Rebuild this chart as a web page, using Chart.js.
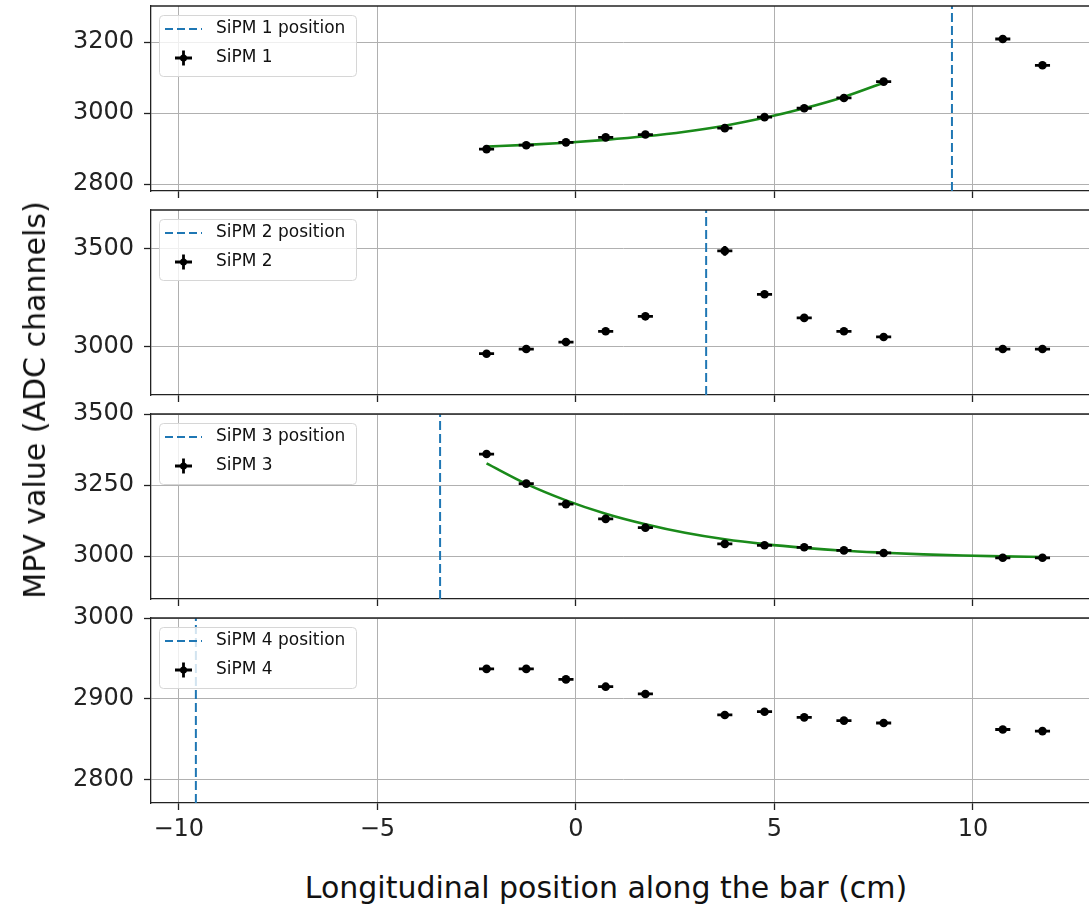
<!DOCTYPE html>
<html>
<head>
<meta charset="utf-8">
<script src="https://cdn.jsdelivr.net/npm/chart.js@4.4.0/dist/chart.umd.min.js"></script>
<style>
  body { margin: 0; background: #fff; width: 1089px; height: 905px; overflow: hidden; position: relative; font-family: "DejaVu Sans", sans-serif; }
  canvas { position: absolute; left: 0; }
  .lab { position: absolute; white-space: nowrap; font-size: 30px; line-height: 1; color: #111; }
  #ylab { left: 35px; top: 400px; transform: translate(-50%, -50%) rotate(-90deg); }
  #xlab { left: 606px; top: 888px; transform: translate(-50%, -50%); }
</style>
</head>
<body>
<canvas id="p1"></canvas>
<canvas id="p2"></canvas>
<canvas id="p3"></canvas>
<canvas id="p4"></canvas>
<div class="lab" id="ylab">MPV value (ADC channels)</div>
<div class="lab" id="xlab">Longitudinal position along the bar (cm)</div>
<script>
// measured positions along the bar (cm)
const xPos = [-2.25, -1.25, -0.25, 0.75, 1.75, 3.75, 4.75, 5.75, 6.75, 7.75, 10.75, 11.75];
const xErr = 0.19;

// MPV values per SiPM
const sipm1 = [2899, 2910, 2918, 2932, 2940, 2958, 2989, 3014, 3043, 3089, 3209, 3135];
const sipm2 = [2962, 2986, 3022, 3077, 3154, 3490, 3267, 3146, 3077, 3048, 2986, 2986];
const sipm3 = [3359, 3255, 3183, 3131, 3100, 3043, 3038, 3031, 3020, 3011, 2994, 2994];
const sipm4 = [2937, 2937, 2924, 2915, 2906, 2880, 2884, 2877, 2873, 2870, 2862, 2860];

const err1 = [5, 5, 5, 6, 5, 8, 6, 6, 6, 6, 5, 5];
const err2 = [8, 8, 8, 8, 8, 25, 10, 8, 8, 8, 8, 8];
const err3 = [8, 6, 8, 10, 8, 8, 6, 6, 6, 6, 6, 6];
const err4 = [3, 3, 3, 3, 3, 3, 3, 3, 3, 3, 3, 3];

// fit curves
const fit1X = [-2.25, -1.25, -0.25, 0.75, 1.75, 2.75, 3.75, 4.75, 5.75, 6.75, 7.75];
const fit1Y = [2906, 2911, 2917, 2925, 2935, 2948, 2965, 2987, 3014, 3046, 3086];
const fit3X = [-2.25, -1.25, -0.25, 0.75, 1.75, 2.75, 3.75, 4.75, 5.75, 6.75, 7.75, 8.75, 9.75, 10.75, 11.75];
const fit3Y = [3326, 3254, 3196, 3149, 3112, 3082, 3059, 3042, 3029, 3019, 3012, 3006, 3002, 2999, 2997];

// SiPM positions
const sipmPos = [9.47, 3.28, -3.42, -9.57];

// axes
const xTicks = [-10, -5, 0, 5, 10];
const xMin = -10.70, xMax = 13.09;
const yTicks1 = [2800, 3000, 3200];
const yTicks2 = [3000, 3500];
const yTicks3 = [3000, 3250, 3500];
const yTicks4 = [2800, 2900, 3000];
const yMin = [2781, 2750, 2849, 2771];
const yMax = [3302, 3700, 3500, 3000];

const BLUE = '#1f77b4';
const GREEN = '#1a8a1a';
const panelTop = [6, 210, 414, 618];
const panelH = 185;
const padTop = 16;

const errorBars = {
  id: 'errorBars',
  afterDatasetsDraw(chart) {
    const ds = chart.data.datasets[0];
    const xs = chart.scales.x, ys = chart.scales.y, ctx = chart.ctx;
    ctx.save();
    ctx.strokeStyle = '#000';
    ctx.lineWidth = 2.8;
    ds.data.forEach(p => {
      const px = xs.getPixelForValue(p.x), py = ys.getPixelForValue(p.y);
      ctx.beginPath();
      ctx.moveTo(xs.getPixelForValue(p.x - p.xe), py);
      ctx.lineTo(xs.getPixelForValue(p.x + p.xe), py);
      ctx.moveTo(px, ys.getPixelForValue(p.y - p.ye));
      ctx.lineTo(px, ys.getPixelForValue(p.y + p.ye));
      ctx.stroke();
    });
    ctx.restore();
  }
};

const frameAndLegend = {
  id: 'frameAndLegend',
  afterDraw(chart, args, opts) {
    const ctx = chart.ctx, a = chart.chartArea;
    ctx.save();
    // top spine
    ctx.strokeStyle = '#222';
    ctx.lineWidth = 1.3;
    ctx.beginPath();
    ctx.moveTo(a.left, a.top);
    ctx.lineTo(a.right, a.top);
    ctx.stroke();
    // legend box
    const bx = a.left + 8, by = a.top + 9;
    ctx.fillStyle = 'rgba(255,255,255,0.8)';
    ctx.strokeStyle = '#d6d6d6';
    ctx.lineWidth = 1;
    ctx.beginPath();
    ctx.roundRect(bx + 0.5, by + 0.5, 197, 61, 4);
    ctx.fill();
    ctx.stroke();
    // dashed sample
    ctx.strokeStyle = BLUE;
    ctx.lineWidth = 2;
    ctx.setLineDash([8, 4]);
    ctx.beginPath();
    ctx.moveTo(a.left + 14, a.top + 23);
    ctx.lineTo(a.left + 51, a.top + 23);
    ctx.stroke();
    ctx.setLineDash([]);
    // errorbar marker sample
    const mx = a.left + 32.5, my = a.top + 52;
    ctx.strokeStyle = '#000';
    ctx.lineWidth = 2.8;
    ctx.beginPath();
    ctx.moveTo(mx - 8.5, my); ctx.lineTo(mx + 8.5, my);
    ctx.moveTo(mx, my - 7.5); ctx.lineTo(mx, my + 7.5);
    ctx.stroke();
    ctx.fillStyle = '#000';
    ctx.beginPath();
    ctx.arc(mx, my, 3.5, 0, Math.PI * 2);
    ctx.fill();
    // texts
    ctx.fillStyle = '#111';
    ctx.font = '17px "DejaVu Sans"';
    ctx.textBaseline = 'middle';
    ctx.fillText(opts.posLabel, a.left + 65, a.top + 23);
    ctx.fillText(opts.label, a.left + 65, a.top + 52);
    ctx.restore();
  }
};

function makePanel(i, values, errs, yTicks, fitX, fitY, bottom) {
  const canvas = document.getElementById('p' + (i + 1));
  const xAxisH = bottom ? 60 : 8;
  canvas.width = 1100;
  canvas.height = padTop + panelH + xAxisH;
  canvas.style.top = (panelTop[i] - padTop) + 'px';

  const datasets = [{
    label: 'SiPM ' + (i + 1),
    data: xPos.map((x, k) => ({ x: x, y: values[k], xe: xErr, ye: errs[k] })),
    showLine: false,
    pointRadius: 4.3,
    pointBackgroundColor: '#000',
    pointBorderColor: '#000',
    pointBorderWidth: 0
  }];
  if (fitX) {
    datasets.push({
      label: 'fit',
      data: fitX.map((x, k) => ({ x: x, y: fitY[k] })),
      showLine: true,
      borderColor: GREEN,
      borderWidth: 2.6,
      pointRadius: 0,
      cubicInterpolationMode: 'monotone',
      fill: false
    });
  }
  datasets.push({
    label: 'SiPM ' + (i + 1) + ' position',
    data: [{ x: sipmPos[i], y: yMin[i] }, { x: sipmPos[i], y: yMax[i] }],
    showLine: true,
    borderColor: BLUE,
    borderWidth: 2,
    borderDash: [9, 4],
    pointRadius: 0,
    fill: false
  });

  new Chart(canvas, {
    type: 'scatter',
    data: { datasets },
    options: {
      responsive: false,
      animation: false,
      devicePixelRatio: 1,
      layout: { padding: { top: padTop, left: 0, right: 0, bottom: 0 } },
      plugins: {
        legend: { display: false },
        tooltip: { enabled: false },
        frameAndLegend: { posLabel: 'SiPM ' + (i + 1) + ' position', label: 'SiPM ' + (i + 1) }
      },
      scales: {
        x: {
          type: 'linear',
          min: xMin,
          max: xMax,
          afterBuildTicks: a => { a.ticks = xTicks.map(v => ({ value: v })); },
          afterFit: a => { a.height = xAxisH; a.paddingLeft = 0; a.paddingRight = 0; },
          grid: { color: '#b0b0b0', lineWidth: 1, tickColor: '#222', tickLength: 7, tickWidth: 1.3 },
          border: { display: true, color: '#222', width: 1.3 },
          ticks: {
            display: bottom,
            color: '#222',
            padding: 5,
            font: { family: 'DejaVu Sans', size: 24 },
            callback: v => (v < 0 ? '\u2212' + Math.abs(v) : String(v))
          }
        },
        y: {
          type: 'linear',
          min: yMin[i],
          max: yMax[i],
          afterBuildTicks: a => { a.ticks = yTicks.map(v => ({ value: v })); },
          afterFit: a => { a.width = 151; a.paddingTop = 0; a.paddingBottom = 0; },
          grid: { color: '#b0b0b0', lineWidth: 1, tickColor: '#222', tickLength: 7, tickWidth: 1.3 },
          border: { display: true, color: '#222', width: 1.3 },
          ticks: {
            color: '#222',
            padding: 10,
            font: { family: 'DejaVu Sans', size: 24 },
            callback: v => String(v)
          }
        }
      }
    },
    plugins: [errorBars, frameAndLegend]
  });
}

makePanel(0, sipm1, err1, yTicks1, fit1X, fit1Y, false);
makePanel(1, sipm2, err2, yTicks2, null, null, false);
makePanel(2, sipm3, err3, yTicks3, fit3X, fit3Y, false);
makePanel(3, sipm4, err4, yTicks4, null, null, true);
</script>
</body>
</html>
